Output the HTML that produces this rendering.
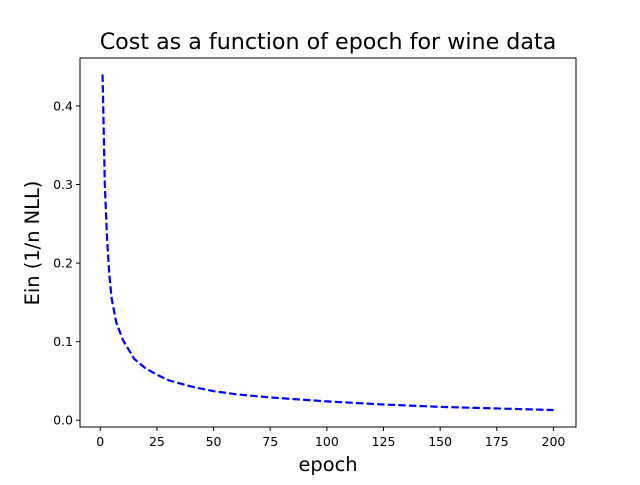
<!DOCTYPE html>
<html><head><meta charset="utf-8"><style>
body{margin:0;background:#fff}
svg text{font-family:"DejaVu Sans","Liberation Sans",sans-serif}
</style></head><body>
<svg id="chart" width="640" height="480">
<rect width="640" height="480" fill="#fff"/>
<text x="328" y="49" font-size="22.2" text-anchor="middle">Cost as a function of epoch for wine data</text>
<g id="ticks"></g>
<path id="line" fill="none" stroke="#0000ff" stroke-width="2.2" stroke-dasharray="7.4,3.2"/>
<rect x="80" y="58" width="496" height="369" fill="none" stroke="#000" stroke-width="1"/>
<text x="328" y="471" font-size="19.4" text-anchor="middle">epoch</text>
<text transform="translate(39,243) rotate(-90)" font-size="19.4" text-anchor="middle">Ein (1/n NLL)</text>
</svg>
<script>
const epochs=[1,2,3,4,5,7,10,15,20,25,30,40,50,60,75,100,125,150,175,200];
const costs=[0.44,0.30,0.23,0.185,0.155,0.125,0.102,0.078,0.066,0.058,0.051,0.043,0.037,0.033,0.029,0.024,0.020,0.017,0.015,0.013];
const xTicks=[0,25,50,75,100,125,150,175,200];
const yTicks=[0.0,0.1,0.2,0.3,0.4];
const yTickLabels=["0.0","0.1","0.2","0.3","0.4"];
const X0=80,X1=576,Y0=427,Y1=58;
const xmin=-8.95,xmax=209.95,ymin=-0.0086,ymax=0.461;
const sx=v=>X0+(v-xmin)/(xmax-xmin)*(X1-X0);
const sy=v=>Y0-(v-ymin)/(ymax-ymin)*(Y0-Y1);
const NS="http://www.w3.org/2000/svg";
const g=document.getElementById('ticks');
function mk(t,a){const e=document.createElementNS(NS,t);for(const k in a)e.setAttribute(k,a[k]);g.appendChild(e);return e;}
xTicks.forEach(v=>{
 const l=mk('line',{x1:sx(v),x2:sx(v),y1:Y0,y2:Y0+4,stroke:'#000'});
 
 
 const t=mk('text',{x:sx(v),y:Y0+19,'font-size':12.5,'text-anchor':'middle'});
 t.textContent=v;
 
 
});
yTicks.forEach((v,i)=>{
 const l=mk('line',{x1:X0-4,x2:X0,y1:sy(v),y2:sy(v),stroke:'#000'});
 
 
 const t=mk('text',{x:X0-7,y:sy(v)+4.5,'font-size':12.5,'text-anchor':'end'});
 t.textContent=yTickLabels[i];
 
 
});
document.getElementById('line').setAttribute('d',epochs.map((e,i)=>(i?'L':'M')+sx(e).toFixed(2)+' '+sy(costs[i]).toFixed(2)).join(' '));
</script>
</body></html>
